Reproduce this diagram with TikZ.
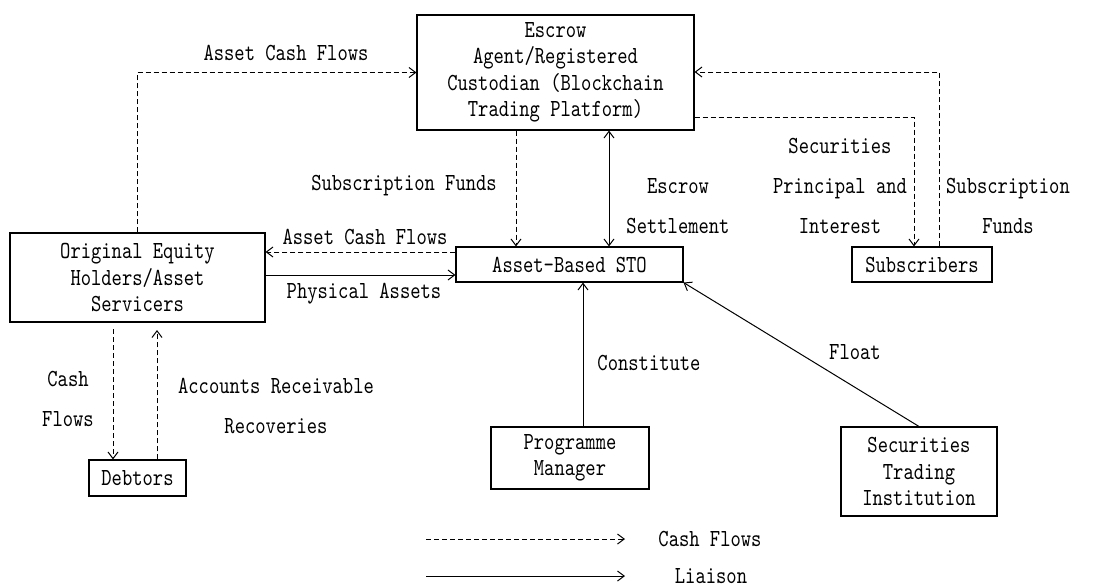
\documentclass[tikz,border=0pt]{standalone}
\usepackage{fontspec}
\setmainfont[FakeStretch=0.8]{lmmono10-regular.otf}
\usetikzlibrary{arrows.meta}
\begin{document}
\begin{tikzpicture}[x=0.75pt,y=-0.75pt,
  box/.style={draw, line width=0.8pt, inner sep=0pt, align=center, font=\fontsize{18.4}{19.9}\selectfont},
  lbl/.style={inner sep=0pt, align=center, font=\fontsize{18.4}{19.9}\selectfont},
  lbltwo/.style={inner sep=0pt, align=center, font=\fontsize{18.4}{30}\selectfont},
  link/.style={line width=0.75pt, -{Straight Barb[length=5pt,width=7.5pt]}},
  cash/.style={link, dash pattern=on 3.75pt off 2.25pt}]
\useasboundingbox (0,0) rectangle (1100,587);

% boxes
\node[box, minimum width=207.75pt, minimum height=86.25pt] (escrow) at (555.5,72.5)
  {Escrow\\Agent/Registered\\Custodian (Blockchain\\Trading Platform)};
\node[box, minimum width=191.25pt, minimum height=66.75pt] (orig) at (137.5,277.5)
  {Original Equity\\Holders/Asset\\Servicers};
\node[box, minimum width=170.25pt, minimum height=26.25pt] (sto) at (569.5,264.5) {Asset-Based STO};
\node[box, minimum width=105pt, minimum height=26.25pt] (subs) at (922,264.5) {Subscribers};
\node[box, minimum width=72.75pt, minimum height=27pt] (debt) at (137.5,478) {Debtors};
\node[box, minimum width=118.5pt, minimum height=46.5pt] (prog) at (570,458) {Programme\\Manager};
\node[box, minimum width=117pt, minimum height=66.75pt] (sec) at (919,471.5) {Securities\\Trading\\Institution};

% helper coordinates
\coordinate (cA) at (516,0);
\coordinate (cB) at (609,0);
\coordinate (cC) at (914,117);
\coordinate (cD) at (939,72);
\coordinate (cE) at (583,0);
\coordinate (cF) at (113,329);
\coordinate (cG) at (157,330);
\coordinate (cH) at (0,275);
\coordinate (cI) at (0,252);
\coordinate (l1) at (426,539);
\coordinate (l2) at (625,539);
\coordinate (l3) at (426,576);
\coordinate (l4) at (625,576);

% connectors
\draw[cash] (orig.north) |- (escrow.west);
\draw[cash] (escrow.south -| cA) -- (sto.north -| cA);
\draw[link, {Straight Barb[length=5pt,width=7.5pt]}-{Straight Barb[length=5pt,width=7.5pt]}] (escrow.south -| cB) -- (sto.north -| cB);
\draw[cash] (escrow.east |- cC) -| (subs.north -| cC);
\draw[cash] (subs.north -| cD) |- (escrow.east |- cD);
\draw[cash] (sto.west |- cI) -- (orig.east |- cI);
\draw[link] (orig.east |- cH) -- (sto.west |- cH);
\draw[link] (prog.north -| cE) -- (sto.south -| cE);
\draw[link] (sec.north) -- (sto.south east);
\draw[cash] (cF) -- (debt.north -| cF);
\draw[cash] (debt.north -| cG) -- (cG);

% labels
\node[lbl] (t1) at (286,53) {Asset Cash Flows};
\node[lbl] (t2) at (404,186) {Subscription Funds};
\node[lbl] (t3) at (365,237) {Asset Cash Flows};
\node[lbl] (t4) at (364,294) {Physical Assets};
\node[lbltwo] (t5) at (678,206) {Escrow\\Settlement};
\node[lbltwo] (t6) at (840,186) {Securities\\Principal and\\Interest};
\node[lbltwo] (t7) at (1008,206) {Subscription\\Funds};
\node[lbl] (t8) at (649,363) {Constitute};
\node[lbl] (t9) at (855,352) {Float};
\node[lbltwo] (t10) at (68,399) {Cash\\Flows};
\node[lbltwo] (t11) at (276,406) {Accounts Receivable\\Recoveries};

% legend
\draw[cash] (l1) -- (l2);
\draw[link] (l3) -- (l4);
\node[lbl] (t12) at (710,539) {Cash Flows};
\node[lbl] (t13) at (711,576) {Liaison};
\end{tikzpicture}
\end{document}
